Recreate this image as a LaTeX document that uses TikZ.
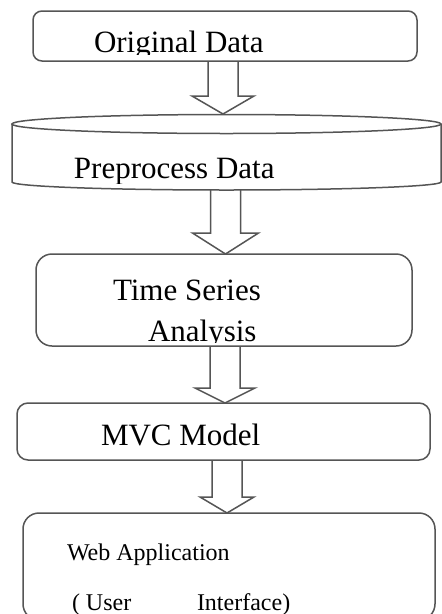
\documentclass[tikz,border=0pt]{standalone}
\usepackage{fontspec}
\setmainfont{Liberation Serif}
\usetikzlibrary{calc}
\definecolor{linegray}{RGB}{85,85,85}
% block arrow: #1 from node, #2 to node, #3 x centre, #4 head length, #5 head half width
\newcommand\blockarr[5]{%
  \draw[lineclr] let \p1=(#1.south), \p2=(#2.north) in
    (#3pt-15pt,\y1) -- (#3pt-15pt,\y2+#4pt) -- (#3pt-#5pt,\y2+#4pt) -- (#3pt,\y2)
    -- (#3pt+#5pt,\y2+#4pt) -- (#3pt+15pt,\y2+#4pt) -- (#3pt+15pt,\y1);}
\begin{document}
\begin{tikzpicture}[x=1pt,y=-1pt,
  lineclr/.style={draw=linegray, line width=1.5pt},
  box/.style={lineclr, rectangle, inner sep=0pt, outer sep=0pt},
  lbl/.style={anchor=base west, inner sep=0pt, outer sep=0pt, font=\fontsize{31}{37}\selectfont},
  slbl/.style={lbl, font=\fontsize{24}{29}\selectfont}]
\clip (0,0) rectangle (442,614);
\fill[white] (0,0) rectangle (442,614);

% boxes
\node[box, rounded corners=9pt, minimum width=384pt, minimum height=50pt] (orig) at (225,36) {};
\node[inner sep=0pt, outer sep=0pt, minimum width=429pt, minimum height=76pt] (cyl) at (226.5,152) {};
\draw[lineclr] (226.5,124) ellipse [x radius=214.5, y radius=9.5];
\draw[lineclr] (12,124) -- (12,182) arc[start angle=180, end angle=0, x radius=214.5, y radius=8] -- (441,124);
\node[box, rounded corners=16pt, minimum width=376pt, minimum height=92pt] (tsa) at (224,300) {};
\node[box, rounded corners=11pt, minimum width=413pt, minimum height=57pt] (mvc) at (223.5,431.5) {};
\node[box, rounded corners=16pt, minimum width=412pt, minimum height=107pt] (web) at (229,566.5) {};

% texts
\begin{scope}
  \clip (0,0) rectangle (442,54);
  \node[lbl] (t1) at (94,52) {Original Data};
\end{scope}
\begin{scope}
  \clip (0,130) rectangle (442,183);
  \node[lbl] (t2) at (74,178) {Preprocess Data};
\end{scope}
\node[lbl] (t3) at (113,300) {Time Series};
\begin{scope}
  \clip (0,300) rectangle (442,342.5);
  \node[lbl] (t3b) at (148,341) {Analysis};
\end{scope}
\node[lbl] (t4) at (101,445) {MVC Model};
\node[slbl] (t5) at (67,560) {Web Application};
\node[slbl] (t5b) at (72,610) {( User};
\node[slbl] (t5c) at (197,610) {Interface)};

% arrows
\blockarr{orig}{cyl}{223}{18}{31}
\blockarr{cyl}{tsa}{225.5}{21}{33}
\blockarr{tsa}{mvc}{225}{15}{30}
\blockarr{mvc}{web}{227}{16}{27}
\end{tikzpicture}
\end{document}
